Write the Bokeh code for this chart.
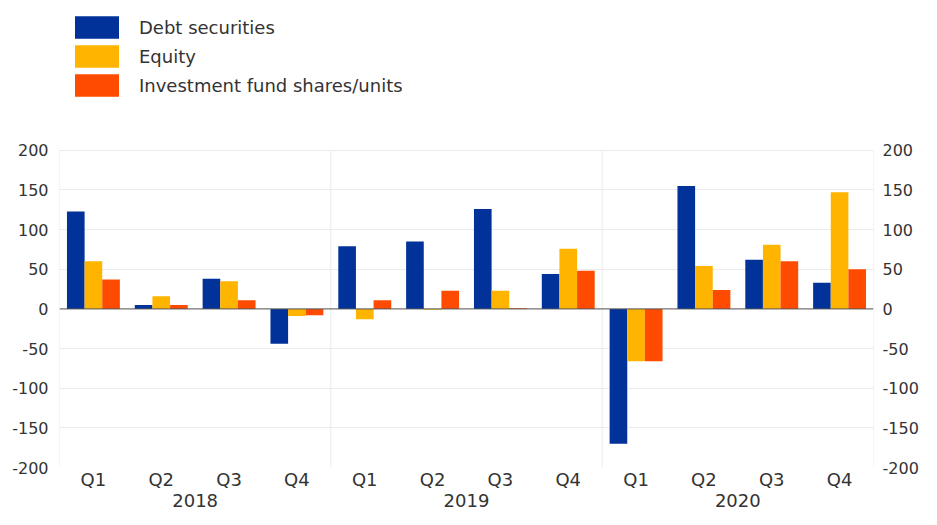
from bokeh.plotting import figure
from bokeh.models import (FactorRange, Range1d, LinearAxis, FixedTicker, Span,
                          Legend, LegendItem, ColumnDataSource, PrintfTickFormatter)
from bokeh.transform import dodge
from bokeh.embed import file_html
from bokeh.resources import INLINE

years = ["2018", "2019", "2020"]
quarters = ["Q1", "Q2", "Q3", "Q4"]
debt = [123, 5, 38, -44, 79, 85, 126, 44, -170, 155, 62, 33]
equity = [60, 16, 35, -9, -13, -1, 23, 76, -66, 54, 81, 147]
funds = [37, 5, 11, -8, 11, 23, 1, 48, -66, 24, 60, 50]
series_names = ["Debt securities", "Equity", "Investment fund shares/units"]
colors = ["#003299", "#FFB400", "#FF4B00"]
y_ticks = [-200, -150, -100, -50, 0, 50, 100, 150, 200]

FONT = "DejaVu Sans"
TXT = "#333333"
GRID = "#ebebeb"

factors = [(y, q) for y in years for q in quarters]
src = ColumnDataSource(dict(x=factors, debt=debt, equity=equity, funds=funds))

# the frame reaches up to the top of the page so that the legend sits inside it
p = figure(x_range=FactorRange(*factors, factor_padding=0, group_padding=0, range_padding=0),
           y_range=Range1d(y_ticks[0], 389), width=921, height=509, title=None,
           output_backend="svg", toolbar_location=None,
           min_border_left=0, min_border_right=0, min_border_top=0, min_border_bottom=0)
p.outline_line_color = None
p.background_fill_color = "white"
p.border_fill_color = "white"

bw = 0.26
renderers = []
for key, off, col in zip(["debt", "equity", "funds"], [-bw, 0, bw], colors):
    r = p.vbar(x=dodge("x", off, range=p.x_range), top=key, bottom=0, width=bw,
               source=src, fill_color=col, line_color=None)
    renderers.append(r)

# plot-area borders and year separators (synthetic factor coordinates)
bounds = [i * len(quarters) for i in range(len(years) + 1)]
p.segment(x0=bounds, x1=bounds, y0=[y_ticks[0]] * len(bounds), y1=[y_ticks[-1]] * len(bounds),
          line_color=GRID, line_width=1, level="underlay")

# axes
xa = p.xaxis[0]
xa.axis_line_color = None
xa.major_tick_line_color = None
xa.major_tick_out = 0
xa.major_tick_in = 0
xa.minor_tick_line_color = None
xa.separator_line_color = None
xa.major_label_text_font = FONT
xa.major_label_text_font_size = "18px"
xa.major_label_text_color = TXT
xa.group_text_font = FONT
xa.group_text_font_size = "18px"
xa.group_text_color = TXT
xa.group_text_font_style = "normal"
xa.major_label_standoff = 1

ticker = FixedTicker(ticks=y_ticks)
ya = p.yaxis[0]
ra = LinearAxis()
p.add_layout(ra, "right")
for ax in (ya, ra):
    ax.ticker = ticker
    ax.formatter = PrintfTickFormatter(format="%d")
    ax.axis_line_color = None
    ax.major_tick_line_color = None
    ax.major_tick_out = 0
    ax.major_tick_in = 0
    ax.minor_tick_line_color = None
    ax.major_label_text_font = FONT
    ax.major_label_text_font_size = "16px"
    ax.major_label_text_color = TXT
ya.major_label_standoff = 11
ra.major_label_standoff = 9
# blank axis label used only as left padding
ya.axis_label = " "
ya.axis_label_standoff = 0
ya.axis_label_text_font_size = "6px"

p.xgrid.grid_line_color = None
p.ygrid.ticker = ticker
p.ygrid.grid_line_color = GRID

p.add_layout(Span(location=0, dimension="width", line_color="#555555", line_width=1))

legend = Legend(items=[LegendItem(label=n, renderers=[r]) for n, r in zip(series_names, renderers)],
                location=(10, 368), orientation="vertical",
                glyph_width=55, glyph_height=28, label_standoff=15, spacing=1,
                padding=0, margin=0, border_line_color=None, background_fill_alpha=0,
                label_text_font=FONT, label_text_font_size="18px", label_text_color=TXT,
                label_height=28)
p.add_layout(legend, "center")

open("out.html", "w").write(file_html(p, INLINE))
